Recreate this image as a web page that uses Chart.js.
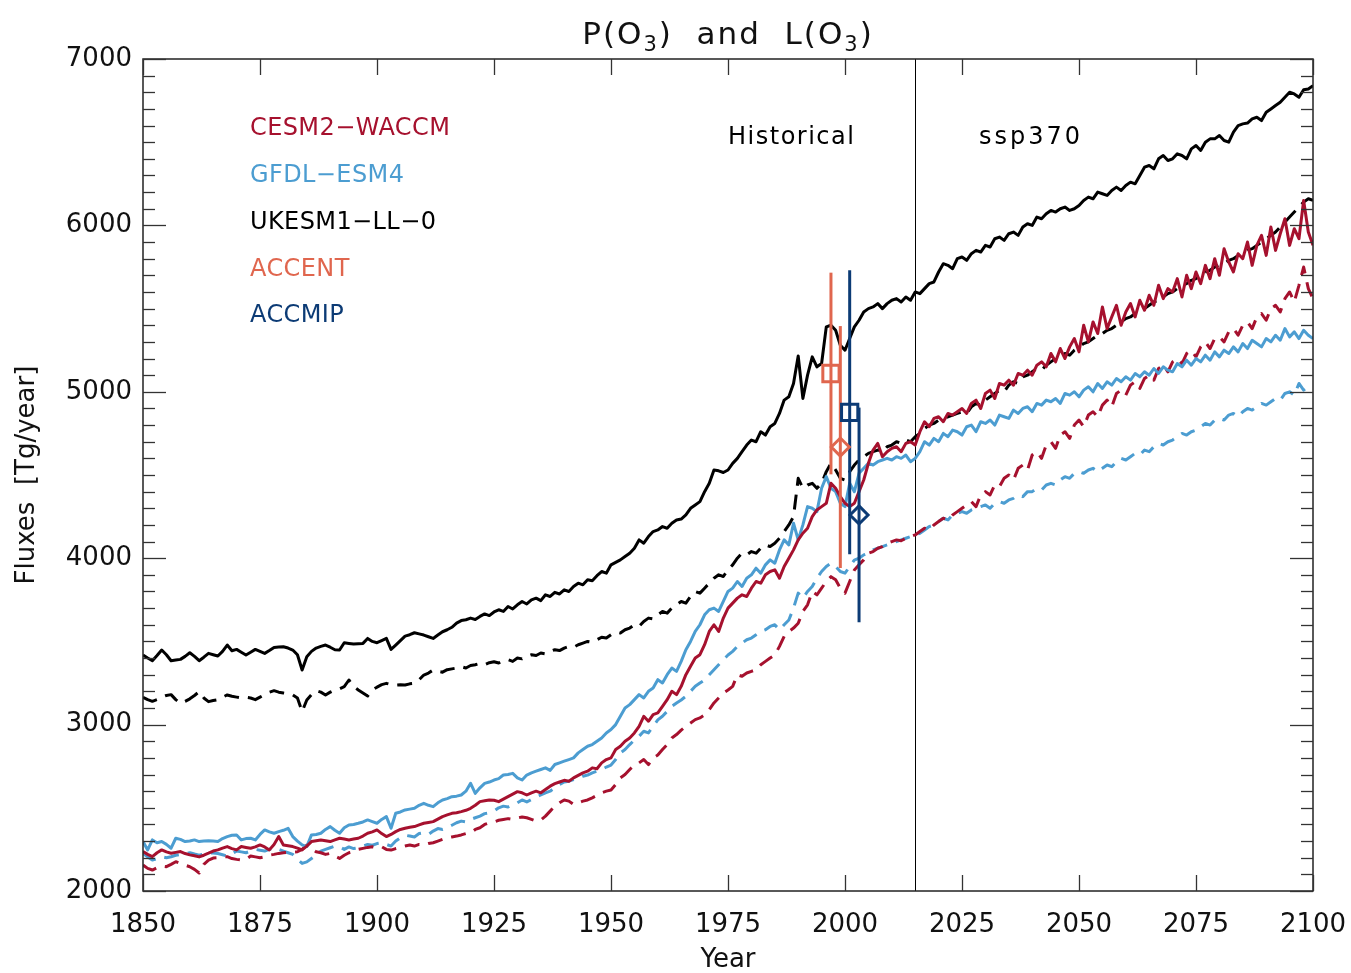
<!DOCTYPE html>
<html>
<head>
<meta charset="utf-8">
<script src="https://cdn.jsdelivr.net/npm/chart.js@4.4.1/dist/chart.umd.min.js"></script>
<style>
  html, body { margin: 0; padding: 0; background: #fff; }
  #wrap { width: 1351px; height: 973px; }
</style>
</head>
<body>
<div id="wrap"><canvas id="c" width="1351" height="973"></canvas></div>
<script>
// ---------------- DATA ----------------
const FIRST_YEAR = 1850;
const LAST_YEAR = 2100;
const xTicks = [1850, 1875, 1900, 1925, 1950, 1975, 2000, 2025, 2050, 2075, 2100];
const yTicks = [2000, 3000, 4000, 5000, 6000, 7000];
const scenarioSplit = 2015;
const periodLabels = ['Historical', 'ssp370'];

const modelNames = ['CESM2\u2212WACCM', 'GFDL\u2212ESM4', 'UKESM1\u2212LL\u22120'];
const refNames = ['ACCENT', 'ACCMIP'];

// UKESM1-0-LL production (solid)
const ukP = [
3418,3400,3384,3415,3448,3420,3384,3388,3392,3410,
3432,3410,3384,3405,3428,3420,3412,3440,3478,3444,
3452,3435,3418,3435,3452,3440,3428,3445,3464,3466,
3468,3460,3448,3420,3328,3408,3440,3460,3470,3478,
3465,3450,3448,3492,3488,3484,3486,3488,3518,3500,
3492,3505,3518,3452,3478,3505,3532,3540,3552,3545,
3538,3528,3518,3538,3558,3570,3585,3610,3625,3630,
3640,3632,3650,3665,3655,3677,3690,3680,3710,3695,
3720,3740,3725,3750,3760,3745,3780,3770,3795,3785,
3810,3800,3830,3850,3840,3870,3865,3895,3920,3910,
3960,3975,3990,4010,4030,4060,4110,4090,4130,4160,
4170,4190,4180,4210,4230,4235,4260,4300,4320,4340,
4400,4450,4530,4525,4515,4530,4570,4600,4640,4680,
4710,4700,4760,4740,4790,4810,4870,4950,4970,5050,
5215,4960,5100,5210,5150,5170,5390,5400,5370,5280,
5250,5320,5390,5430,5480,5500,5510,5530,5500,5530,
5550,5560,5540,5570,5550,5600,5590,5620,5650,5660,
5720,5770,5760,5740,5800,5810,5790,5830,5850,5840,
5880,5870,5920,5930,5910,5950,5960,5940,5990,6010,
6000,6050,6040,6070,6090,6080,6100,6110,6090,6100,
6120,6150,6170,6160,6200,6190,6180,6210,6230,6210,
6240,6260,6250,6300,6350,6360,6340,6400,6420,6390,
6400,6430,6420,6400,6460,6480,6450,6500,6520,6520,
6540,6510,6500,6560,6600,6610,6615,6640,6650,6630,
6680,6700,6720,6740,6770,6800,6790,6770,6815,6820,
6840];

// UKESM1-0-LL loss (dashed)
const ukL = [
3164,3150,3140,3150,3165,3175,3180,3150,3128,3140,
3155,3175,3198,3160,3138,3145,3150,3165,3178,3170,
3165,3160,3164,3160,3150,3165,3180,3195,3204,3195,
3190,3185,3178,3160,3078,3148,3180,3204,3195,3178,
3195,3208,3215,3228,3268,3230,3208,3190,3172,3208,
3225,3240,3248,3240,3238,3240,3238,3245,3248,3270,
3298,3310,3328,3320,3315,3330,3335,3340,3348,3340,
3355,3360,3368,3360,3372,3378,3370,3385,3390,3380,
3400,3395,3410,3420,3415,3430,3425,3440,3450,3445,
3460,3470,3465,3480,3490,3500,3495,3510,3525,3520,
3540,3555,3550,3570,3580,3600,3590,3620,3640,3635,
3660,3680,3670,3700,3720,3740,3730,3770,3800,3790,
3820,3850,3880,3900,3890,3930,3960,4000,4030,4020,
4040,4030,4060,4080,4070,4090,4120,4160,4200,4250,
4480,4420,4440,4450,4420,4450,4520,4570,4530,4480,
4470,4520,4560,4590,4610,4630,4640,4650,4640,4670,
4680,4700,4690,4710,4700,4730,4750,4780,4800,4810,
4830,4840,4850,4860,4870,4880,4870,4910,4930,4920,
4950,4970,4990,5010,5000,5040,5060,5050,5090,5100,
5120,5140,5130,5160,5180,5200,5210,5230,5220,5250,
5270,5290,5300,5320,5340,5350,5370,5380,5400,5420,
5440,5450,5470,5490,5500,5520,5540,5550,5570,5590,
5600,5620,5640,5650,5670,5680,5700,5720,5730,5750,
5760,5770,5790,5800,5820,5830,5850,5860,5880,5900,
5920,5940,5960,5990,6020,6050,6080,6110,6140,6160,
6150];

// CESM2-WACCM production (solid)
const cesmP = [
2237,2220,2207,2230,2247,2235,2227,2232,2237,2225,
2217,2212,2205,2215,2227,2240,2247,2258,2267,2255,
2247,2267,2262,2257,2265,2277,2265,2247,2280,2327,
2277,2272,2267,2258,2247,2270,2297,2302,2307,2302,
2297,2307,2317,2312,2307,2312,2317,2330,2347,2355,
2367,2345,2327,2340,2357,2370,2377,2383,2387,2397,
2407,2412,2417,2432,2447,2457,2467,2470,2477,2485,
2497,2515,2537,2542,2547,2545,2537,2552,2567,2582,
2597,2590,2577,2590,2600,2590,2610,2630,2645,2655,
2665,2660,2680,2695,2710,2720,2740,2735,2770,2790,
2800,2850,2870,2900,2920,2950,2990,3050,3020,3060,
3070,3110,3150,3200,3180,3230,3300,3350,3400,3420,
3480,3560,3600,3560,3640,3700,3730,3760,3780,3770,
3820,3860,3850,3900,3920,3930,3880,3950,4000,4050,
4110,4150,4180,4250,4290,4310,4330,4450,4420,4370,
4330,4310,4330,4400,4470,4570,4650,4690,4610,4640,
4660,4670,4640,4690,4700,4680,4760,4820,4790,4840,
4850,4820,4870,4860,4880,4900,4870,4930,4950,4900,
4990,5010,4960,5050,5040,5070,5040,5110,5100,5130,
5100,5160,5180,5150,5230,5180,5260,5200,5270,5320,
5240,5400,5300,5420,5350,5510,5380,5450,5520,5400,
5480,5530,5450,5550,5490,5580,5520,5640,5560,5620,
5600,5680,5570,5700,5620,5720,5650,5760,5680,5800,
5700,5860,5780,5720,5830,5800,5900,5760,5880,5940,
5820,5990,5850,5950,6040,5880,5980,5920,6150,5960,
5880];

// CESM2-WACCM loss (dashed)
const cesmL = [
2156,2136,2126,2140,2150,2146,2160,2176,2165,2155,
2146,2130,2108,2160,2185,2198,2200,2206,2206,2195,
2190,2186,2190,2210,2205,2200,2206,2215,2220,2226,
2230,2232,2234,2236,2250,2276,2255,2236,2230,2220,
2226,2210,2196,2215,2230,2236,2250,2256,2262,2266,
2260,2266,2250,2246,2255,2262,2270,2276,2270,2280,
2276,2285,2290,2300,2310,2320,2325,2330,2337,2345,
2350,2370,2380,2400,2410,2415,2425,2430,2435,2430,
2439,2445,2440,2430,2420,2427,2450,2480,2510,2530,
2547,2540,2520,2530,2540,2547,2560,2575,2590,2600,
2607,2640,2680,2700,2730,2757,2770,2790,2760,2800,
2817,2850,2880,2920,2940,2967,2990,3010,3030,3040,
3058,3090,3130,3160,3190,3208,3230,3300,3290,3310,
3320,3330,3360,3380,3400,3418,3470,3530,3560,3580,
3609,3680,3720,3800,3780,3820,3860,3889,3870,3820,
3790,3860,3929,3960,3990,4030,4040,4060,4070,4090,
4100,4110,4105,4120,4130,4140,4160,4180,4170,4200,
4220,4240,4230,4260,4280,4300,4320,4340,4310,4380,
4400,4380,4440,4430,4480,4500,4470,4540,4560,4530,
4620,4640,4600,4680,4700,4660,4740,4760,4720,4800,
4830,4790,4860,4880,4850,4920,4950,4910,4990,5010,
4980,5040,5060,5020,5080,5100,5070,5140,5160,5120,
5180,5200,5170,5230,5250,5210,5270,5300,5260,5320,
5330,5300,5360,5380,5340,5400,5420,5380,5450,5470,
5430,5500,5520,5480,5560,5600,5540,5640,5750,5620,
5560];

// GFDL-ESM4 production (solid)
const gfdlP = [
2297,2247,2307,2290,2297,2280,2257,2317,2310,2297,
2300,2307,2297,2300,2302,2300,2297,2315,2327,2335,
2337,2307,2315,2317,2307,2340,2367,2355,2347,2357,
2365,2377,2327,2300,2277,2267,2337,2340,2347,2370,
2387,2365,2347,2380,2397,2400,2407,2415,2427,2417,
2407,2430,2447,2377,2467,2475,2487,2492,2497,2515,
2527,2515,2507,2530,2547,2555,2567,2570,2577,2600,
2647,2587,2620,2647,2655,2667,2675,2697,2700,2707,
2680,2667,2697,2710,2720,2730,2740,2725,2760,2770,
2780,2790,2800,2830,2850,2870,2880,2900,2920,2950,
2970,3000,3050,3100,3120,3150,3180,3160,3200,3220,
3270,3250,3300,3340,3320,3380,3450,3500,3560,3600,
3660,3690,3700,3680,3740,3800,3820,3860,3830,3880,
3900,3940,3910,3960,3990,3970,4050,4110,4080,4210,
4110,4200,4310,4300,4280,4420,4490,4420,4400,4330,
4310,4450,4400,4510,4540,4570,4560,4580,4590,4600,
4590,4610,4600,4620,4580,4600,4640,4700,4680,4720,
4700,4750,4730,4770,4760,4740,4790,4800,4760,4820,
4810,4830,4800,4860,4850,4840,4890,4870,4900,4910,
4880,4930,4920,4950,4940,4960,4930,4990,4980,5000,
4970,5010,5030,5000,5050,5020,5060,5040,5080,5060,
5090,5070,5110,5090,5120,5100,5140,5110,5150,5130,
5120,5170,5150,5190,5160,5200,5180,5220,5190,5240,
5210,5250,5230,5270,5240,5290,5260,5310,5290,5270,
5320,5300,5340,5310,5380,5330,5360,5320,5370,5340,
5320];

// GFDL-ESM4 loss (dashed)
const gfdlL = [
2226,2205,2186,2195,2206,2200,2206,2215,2220,2225,
2230,2222,2215,2222,2230,2228,2225,2218,2210,2225,
2240,2235,2230,2240,2250,2245,2240,2250,2260,2250,
2240,2230,2220,2190,2166,2175,2195,2215,2240,2250,
2260,2270,2265,2250,2265,2255,2260,2270,2280,2275,
2285,2290,2280,2270,2300,2320,2335,2330,2325,2345,
2350,2340,2360,2375,2370,2380,2395,2410,2420,2415,
2430,2440,2450,2465,2470,2480,2500,2510,2505,2520,
2530,2547,2535,2550,2565,2577,2590,2600,2620,2640,
2655,2660,2670,2680,2690,2697,2710,2720,2730,2745,
2757,2790,2830,2850,2880,2907,2930,2960,2950,2990,
3028,3050,3080,3110,3130,3148,3170,3200,3230,3250,
3268,3300,3330,3360,3390,3418,3440,3470,3490,3510,
3520,3540,3560,3570,3590,3600,3569,3600,3629,3700,
3790,3760,3800,3830,3880,3920,3950,3970,3950,3920,
3910,3950,3989,4000,4020,4030,4050,4060,4070,4080,
4090,4100,4110,4120,4130,4140,4150,4170,4190,4200,
4220,4240,4230,4260,4270,4280,4270,4290,4300,4310,
4320,4300,4330,4340,4330,4350,4360,4380,4370,4400,
4400,4420,4410,4440,4450,4440,4470,4490,4480,4510,
4520,4510,4530,4540,4520,4540,4560,4550,4580,4600,
4590,4610,4630,4620,4650,4640,4670,4690,4680,4700,
4710,4730,4750,4740,4760,4770,4790,4810,4800,4830,
4840,4830,4860,4870,4850,4880,4900,4890,4910,4930,
4920,4940,4960,4950,4990,5000,4980,5050,5010,5030,
5020];

// Multi-model reference estimates: [ACCENT, ACCMIP]
const refProdYear = [1997, 2001];
const refProdMean = [5110, 4877];
const refProdErr  = [606, 853];
const refLossYear = [1999, 2003];
const refLossMean = [4668, 4260];
const refLossErr  = [727, 645];

// ---------------- STYLE ----------------
const RED = '#A6112E';
const BLUE = '#4C9DD1';
const BLACK = '#000000';
const SALMON = '#E0664E';
const NAVY = '#0C3B75';
const modelColors = [RED, BLUE, BLACK];
const refColors = [SALMON, NAVY];
const FONT = '"DejaVu Sans", sans-serif';

const years = [];
for (let y = FIRST_YEAR; y <= LAST_YEAR; y++) years.push(y);
const toXY = arr => arr.map((v, i) => ({ x: years[i], y: v }));

function lineDs(label, arr, color, dashed, order) {
  return {
    label, data: toXY(arr), borderColor: color, backgroundColor: color,
    borderWidth: 3, borderDash: dashed ? [15, 9] : [], pointRadius: 0,
    tension: 0, fill: false, order, borderCapStyle: 'butt', borderJoinStyle: 'round'
  };
}

const datasets = [
  lineDs('UKESM P', ukP, BLACK, false, 9),
  lineDs('UKESM L', ukL, BLACK, true, 8),
  lineDs('GFDL L', gfdlL, BLUE, true, 7),
  lineDs('CESM L', cesmL, RED, true, 6),
  lineDs('GFDL P', gfdlP, BLUE, false, 5),
  lineDs('CESM P', cesmP, RED, false, 4),
];
refNames.forEach((name, k) => {
  datasets.push({
    label: name + ' P range', data: [
      { x: refProdYear[k], y: refProdMean[k] - refProdErr[k] },
      { x: refProdYear[k], y: refProdMean[k] + refProdErr[k] }],
    borderColor: refColors[k], borderWidth: 3, pointRadius: 0, order: 2
  });
  datasets.push({
    label: name + ' L range', data: [
      { x: refLossYear[k], y: refLossMean[k] - refLossErr[k] },
      { x: refLossYear[k], y: refLossMean[k] + refLossErr[k] }],
    borderColor: refColors[k], borderWidth: 3, pointRadius: 0, order: 2
  });
  datasets.push({
    label: name + ' P', data: [{ x: refProdYear[k], y: refProdMean[k] }],
    showLine: false, pointStyle: 'rect', pointRadius: 11.5, pointBorderWidth: 3,
    pointBorderColor: refColors[k], pointBackgroundColor: 'rgba(0,0,0,0)', order: 1
  });
  datasets.push({
    label: name + ' L', data: [{ x: refLossYear[k], y: refLossMean[k] }],
    showLine: false, pointStyle: 'rectRot', pointRadius: 9, pointBorderWidth: 3,
    pointBorderColor: refColors[k], pointBackgroundColor: 'rgba(0,0,0,0)', order: 1
  });
});

// ---------------- DECORATION PLUGIN ----------------
const deco = {
  id: 'deco',
  beforeDatasetsDraw(chart) {
    const { ctx, chartArea: a, scales: { x } } = chart;
    const px = Math.round(x.getPixelForValue(scenarioSplit)) + 0.5;
    ctx.save();
    ctx.strokeStyle = '#000'; ctx.lineWidth = 1;
    ctx.beginPath(); ctx.moveTo(px, a.top); ctx.lineTo(px, a.bottom); ctx.stroke();
    ctx.restore();
  },
  afterDraw(chart) {
    const { ctx, chartArea: a, scales: { x, y } } = chart;
    ctx.save();
    ctx.strokeStyle = '#222'; ctx.lineWidth = 1.5;
    ctx.strokeRect(a.left, a.top, a.right - a.left, a.bottom - a.top);
    ctx.lineWidth = 1.3; ctx.strokeStyle = '#333';
    const seg = (x1, y1, x2, y2) => { ctx.beginPath(); ctx.moveTo(x1, y1); ctx.lineTo(x2, y2); ctx.stroke(); };
    for (let v = yTicks[0]; v <= yTicks[yTicks.length - 1]; v += 100) {
      const py = Math.round(y.getPixelForValue(v)) + 0.5;
      const len = (v % 1000 === 0) ? 23 : 12;
      seg(a.left, py, a.left + len, py);
      seg(a.right, py, a.right - len, py);
    }
    for (const v of xTicks) {
      const px = Math.round(x.getPixelForValue(v)) + 0.5;
      seg(px, a.bottom, px, a.bottom - 16);
      seg(px, a.top, px, a.top + 16);
    }
    // title with subscripts
    ctx.fillStyle = '#111';
    ctx.textBaseline = 'alphabetic';
    ctx.letterSpacing = '2px';
    const big = '31px ' + FONT, small = '21px ' + FONT;
    const parts = [['P(O', big, 0], ['3', small, 7], [')  and  L(O', big, 0], ['3', small, 7], [')', big, 0]];
    let total = 0;
    parts.forEach(p => { ctx.font = p[1]; total += ctx.measureText(p[0]).width; });
    let tx = (a.left + a.right) / 2 - total / 2;
    parts.forEach(p => { ctx.font = p[1]; ctx.fillText(p[0], tx, 44 + p[2]); tx += ctx.measureText(p[0]).width; });
    // legend
    ctx.font = '24px ' + FONT;
    ctx.letterSpacing = '0.4px';
    ctx.textBaseline = 'middle';
    ctx.textAlign = 'left';
    const legNames = modelNames.concat(refNames);
    const legColors = modelColors.concat(refColors);
    legNames.forEach((n, i) => {
      ctx.fillStyle = legColors[i];
      ctx.fillText(n, 250, 129 + i * 46.8);
    });
    // period labels
    ctx.fillStyle = '#000';
    ctx.textAlign = 'left';
    ctx.letterSpacing = '1.5px';
    ctx.fillText(periodLabels[0], 728, 138);
    ctx.letterSpacing = '3px';
    ctx.fillText(periodLabels[1], 979, 138);
    ctx.restore();
  }
};

// ---------------- CHART ----------------
new Chart(document.getElementById('c'), {
  type: 'line',
  data: { datasets },
  plugins: [deco],
  options: {
    responsive: false,
    animation: false,
    events: [],
    layout: { padding: { top: 59, right: 38, left: 0, bottom: 0 } },
    plugins: { legend: { display: false }, tooltip: { enabled: false }, title: { display: false } },
    scales: {
      x: {
        type: 'linear', min: FIRST_YEAR, max: LAST_YEAR,
        afterBuildTicks: s => { s.ticks = xTicks.map(v => ({ value: v })); },
        afterFit: s => { s.height = 82; s.paddingLeft = 0; s.paddingRight = 0; },
        grid: { display: false, drawTicks: false },
        border: { display: false },
        ticks: { font: { family: FONT, size: 26 }, color: '#111', padding: 19, maxRotation: 0, autoSkip: false,
                 callback: v => String(v) },
        title: { display: true, text: 'Year', font: { family: FONT, size: 26, lineHeight: 1 }, color: '#111',
                 padding: { top: 0, bottom: 0 } }
      },
      y: {
        type: 'linear', min: yTicks[0], max: yTicks[yTicks.length - 1],
        afterBuildTicks: s => { s.ticks = yTicks.map(v => ({ value: v })); },
        afterFit: s => { s.width = 143; s.paddingTop = 0; s.paddingBottom = 0; },
        grid: { display: false, drawTicks: false },
        border: { display: false },
        ticks: { font: { family: FONT, size: 26 }, color: '#111', padding: 11, callback: v => String(v) },
        title: { display: true, text: 'Fluxes  [Tg/year]', font: { family: FONT, size: 26, lineHeight: 1 }, color: '#111',
                 padding: { top: 14, bottom: 14 } }
      }
    }
  }
});
</script>
</body>
</html>
